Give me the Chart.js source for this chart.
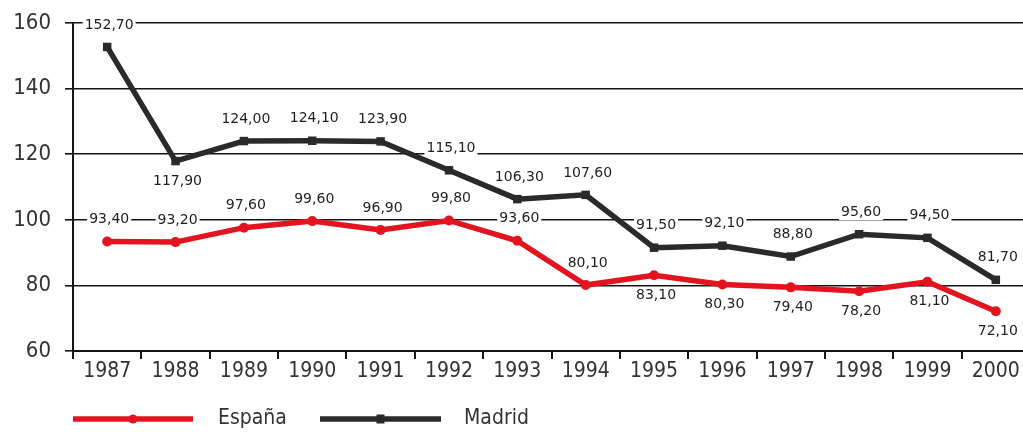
<!DOCTYPE html>
<html lang="es">
<head>
<meta charset="utf-8">
<title>España y Madrid, 1987-2000</title>
<script src="https://cdn.jsdelivr.net/npm/chart.js@4"></script>
<style>
  html, body { margin: 0; padding: 0; background: #fff; overflow: hidden; }
  #wrap { width: 1036px; height: 432px; }
</style>
</head>
<body>
<div id="wrap"><canvas id="chart" width="1036" height="432"></canvas></div>
<script>
// Years on the horizontal axis
const years = ['1987', '1988', '1989', '1990', '1991', '1992', '1993',
               '1994', '1995', '1996', '1997', '1998', '1999', '2000'];

// Series values
const espana = [93.4, 93.2, 97.6, 99.6, 96.9, 99.8, 93.6,
                80.1, 83.1, 80.3, 79.4, 78.2, 81.1, 72.1];
const madrid = [152.7, 117.9, 124.0, 124.1, 123.9, 115.1, 106.3,
                107.6, 91.5, 92.1, 88.8, 95.6, 94.5, 81.7];

// Value axis range
const yMin = 60;
const yMax = 160;
const yStep = 20;

const RED = '#e3141f';
const DARK = '#2a2a2a';
const AXIS = '#151515';
const TEXT = '#333333';

const fmt = v => v.toFixed(2).replace('.', ',');

// Where each value label sits relative to its point
function labelBelow(datasetIndex, i) {
  if (datasetIndex === 1) return i === 1;   // Madrid: only 1988 below
  return i >= 8;                            // España: 1995 onward below
}

const valueLabels = {
  id: 'valueLabels',
  _items(chart) {
    const out = [];
    const ctx = chart.ctx;
    ctx.font = '14px "DejaVu Sans", sans-serif';
    chart.data.datasets.forEach((ds, di) => {
      const meta = chart.getDatasetMeta(di);
      meta.data.forEach((pt, i) => {
        const text = fmt(ds.data[i]);
        const y = labelBelow(di, i) ? pt.y + 20 : pt.y - 22;
        const w = ctx.measureText(text).width;
        out.push({ text, x: pt.x + 2, y, w });
      });
    });
    return out;
  },
  beforeDatasetsDraw(chart) {
    const ctx = chart.ctx;
    ctx.save();
    ctx.fillStyle = '#ffffff';
    this._items(chart).forEach(it => {
      ctx.fillRect(it.x - it.w / 2 - 2, it.y - 8, it.w + 4, 16);
    });
    ctx.restore();
  },
  afterDatasetsDraw(chart) {
    const ctx = chart.ctx;
    ctx.save();
    const items = this._items(chart);
    ctx.fillStyle = '#1f1f1f';
    ctx.textAlign = 'center';
    ctx.textBaseline = 'middle';
    items.forEach(it => ctx.fillText(it.text, it.x, it.y));
    ctx.restore();
  }
};

// Legend along the bottom: line sample with a marker, then the name
const lineLegend = {
  id: 'lineLegend',
  afterDraw(chart) {
    const ctx = chart.ctx;
    const y = 419;
    const entries = [
      { x0: 73, x1: 193, tx: 218, ds: chart.data.datasets[0] },
      { x0: 320, x1: 441, tx: 464, ds: chart.data.datasets[1] }
    ];
    ctx.save();
    entries.forEach(e => {
      ctx.strokeStyle = e.ds.borderColor;
      ctx.lineWidth = 5.5;
      ctx.beginPath();
      ctx.moveTo(e.x0, y);
      ctx.lineTo(e.x1, y);
      ctx.stroke();
      const mx = (e.x0 + e.x1) / 2;
      ctx.fillStyle = e.ds.borderColor;
      if (e.ds.pointStyle === 'rect') {
        ctx.fillRect(mx - 4, y - 4.5, 8, 9);
      } else {
        ctx.beginPath();
        ctx.arc(mx, y, 4.5, 0, Math.PI * 2);
        ctx.fill();
      }
      ctx.fillStyle = TEXT;
      ctx.font = '21px "DejaVu Sans Condensed", "DejaVu Sans", sans-serif';
      ctx.textAlign = 'left';
      ctx.textBaseline = 'middle';
      ctx.fillText(e.ds.label, e.tx, y);
    });
    ctx.restore();
  }
};

new Chart(document.getElementById('chart'), {
  type: 'line',
  data: {
    labels: years,
    datasets: [
      {
        label: 'España',
        data: espana,
        borderColor: RED,
        backgroundColor: RED,
        borderWidth: 5.5,
        pointStyle: 'circle',
        pointRadius: 5,
        pointBorderWidth: 0,
        tension: 0,
        fill: false
      },
      {
        label: 'Madrid',
        data: madrid,
        borderColor: DARK,
        backgroundColor: DARK,
        borderWidth: 5.5,
        pointStyle: 'rect',
        pointRadius: 6,
        pointBorderWidth: 0,
        tension: 0,
        fill: false
      }
    ]
  },
  options: {
    responsive: false,
    devicePixelRatio: 1,
    animation: false,
    layout: { padding: { top: 23, right: 1, bottom: 0, left: 0 } },
    plugins: {
      legend: { display: false },
      tooltip: { enabled: false }
    },
    scales: {
      x: {
        type: 'category',
        offset: true,
        grid: {
          display: true,
          drawOnChartArea: false,
          drawTicks: true,
          tickLength: 8,
          color: AXIS,
          lineWidth: 2,
          offset: true
        },
        border: { display: true, color: AXIS, width: 2 },
        ticks: {
          color: TEXT,
          font: { family: '"DejaVu Sans Condensed", "DejaVu Sans", sans-serif', size: 21 },
          padding: 0,
          maxRotation: 0,
          autoSkip: false
        },
        afterFit(scale) {
          scale.height = 81;
          scale.paddingLeft = 0;
          scale.paddingRight = 0;
        }
      },
      y: {
        min: yMin,
        max: yMax,
        grid: {
          color: AXIS,
          lineWidth: 1.6,
          drawTicks: true,
          tickLength: 8
        },
        border: { display: true, color: AXIS, width: 2 },
        ticks: {
          stepSize: yStep,
          color: TEXT,
          padding: 14,
          font: { family: '"DejaVu Sans Condensed", "DejaVu Sans", sans-serif', size: 22 }
        },
        afterFit(scale) {
          scale.width = 73;
          scale.paddingTop = 0;
          scale.paddingBottom = 0;
        }
      }
    }
  },
  plugins: [valueLabels, lineLegend]
});
</script>
</body>
</html>
